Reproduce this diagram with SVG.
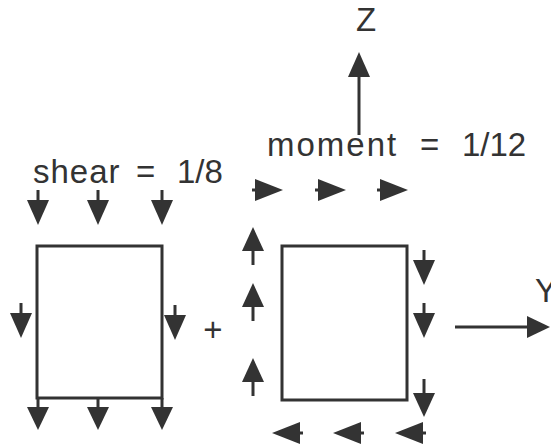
<svg xmlns="http://www.w3.org/2000/svg" xmlns:xlink="http://www.w3.org/1999/xlink" width="551" height="448" viewBox="0 0 551 448">
<style>
.t{font-family:"Liberation Sans",Arial,Helvetica,sans-serif;font-size:33px;fill:#333}
.box{fill:none;stroke:#333;stroke-width:3}
.sh{stroke:#333;stroke-width:3;fill:none}
.hd{fill:#333;stroke:none}
</style>
<defs>
<g id="a35"><line class="sh" x1="-35" y1="0" x2="-18" y2="0"/><polygon class="hd" points="0,0 -25,-11 -25,11"/></g>
<g id="a38"><line class="sh" x1="-38" y1="0" x2="-18" y2="0"/><polygon class="hd" points="0,0 -24,-11 -24,11"/></g>
<g id="a31"><line class="sh" x1="-31" y1="0" x2="-18" y2="0"/><polygon class="hd" points="0,0 -28,-11 -28,11"/></g>
<g id="a32"><line class="sh" x1="-32" y1="0" x2="-18" y2="0"/><polygon class="hd" points="0,0 -23,-11 -23,11"/></g>
</defs>
<rect width="551" height="448" fill="#fff"/>
<g id="shear-block">
<text class="t" x="33" y="183" letter-spacing="1">shear</text>
<text class="t" x="136" y="183">=</text>
<text class="t" x="177" y="183">1/8</text>
<use xlink:href="#a35" transform="translate(38,225) rotate(90)"/>
<use xlink:href="#a35" transform="translate(98,225) rotate(90)"/>
<use xlink:href="#a35" transform="translate(162,225) rotate(90)"/>
<rect class="box" x="37" y="246" width="125" height="152"/>
<use xlink:href="#a35" transform="translate(21,338) rotate(90)"/>
<use xlink:href="#a35" transform="translate(175,340) rotate(90)"/>
<use xlink:href="#a32" transform="translate(38,430) rotate(90)"/>
<use xlink:href="#a32" transform="translate(98,430) rotate(90)"/>
<use xlink:href="#a32" transform="translate(162,430) rotate(90)"/>
</g>
<text id="plus" class="t" x="213" y="341" text-anchor="middle">+</text>
<g id="moment-block">
<text class="t" x="267" y="156" letter-spacing="2">moment</text>
<text class="t" x="420" y="156">=</text>
<text class="t" x="462" y="156">1/12</text>
<use xlink:href="#a31" transform="translate(283,190)"/>
<use xlink:href="#a31" transform="translate(346,190)"/>
<use xlink:href="#a31" transform="translate(408,190)"/>
<use xlink:href="#a38" transform="translate(253,227) rotate(-90)"/>
<use xlink:href="#a38" transform="translate(253,283) rotate(-90)"/>
<use xlink:href="#a38" transform="translate(253,358) rotate(-90)"/>
<rect class="box" x="282" y="246" width="125" height="154"/>
<use xlink:href="#a35" transform="translate(424,285) rotate(90)"/>
<use xlink:href="#a35" transform="translate(424,338) rotate(90)"/>
<use xlink:href="#a38" transform="translate(424,417) rotate(90)"/>
<use xlink:href="#a31" transform="translate(272,433) rotate(180)"/>
<use xlink:href="#a31" transform="translate(333,433) rotate(180)"/>
<use xlink:href="#a31" transform="translate(395,433) rotate(180)"/>
</g>
<g id="axes">
<g id="axis-z">
<line class="sh" x1="359" y1="135" x2="359" y2="74"/>
<polygon class="hd" points="359,52 348,77 370,77"/>
<text class="t" x="366" y="31" text-anchor="middle">Z</text>
</g>
<g id="axis-y">
<line class="sh" x1="455" y1="327" x2="530" y2="327"/>
<polygon class="hd" points="550,327 527,316 527,338"/>
<text class="t" x="535" y="302">Y</text>
</g>
</g>
</svg>
